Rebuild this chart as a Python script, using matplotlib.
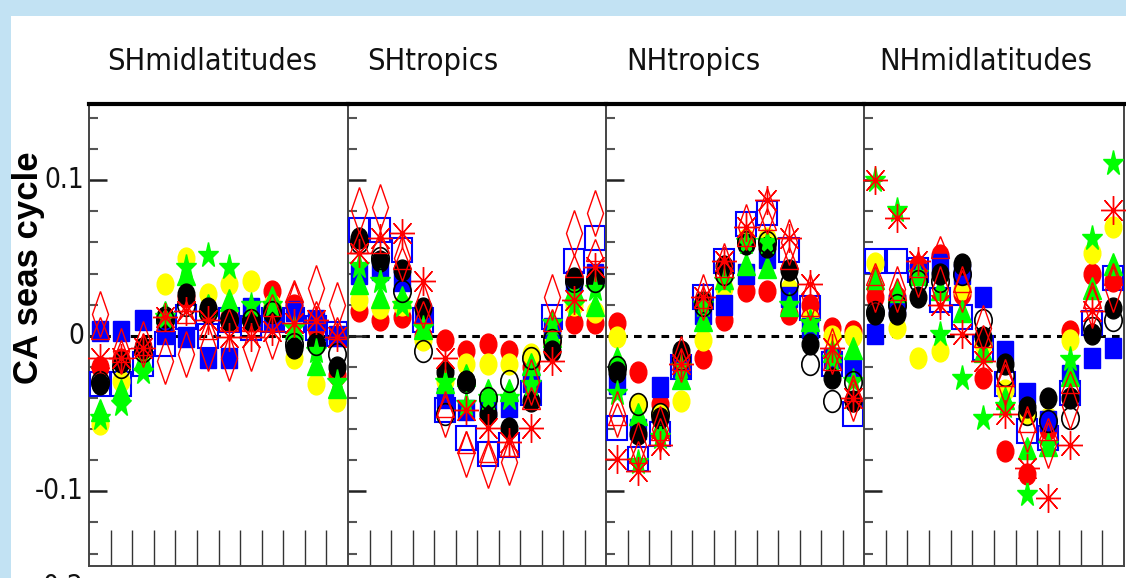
import numpy as np
import matplotlib
matplotlib.use('Agg')
import matplotlib.pyplot as plt
from matplotlib.markers import MarkerStyle
from matplotlib.transforms import Affine2D
from matplotlib.patches import Rectangle
from matplotlib.ticker import MultipleLocator
from matplotlib import font_manager

# ---------------- data (one row per region, 12 months each) ----------------
regions = ['SHmidlatitudes', 'SHtropics', 'NHtropics', 'NHmidlatitudes']
months = np.arange(12) + 0.5

black_circle = [
    [-0.031, -0.017, -0.008, 0.012, 0.027, 0.018, 0.010, 0.010, 0.016, -0.008, -0.005, -0.020],
    [0.063, 0.048, 0.042, 0.018, -0.023, -0.029, -0.050, -0.059, -0.042, -0.010, 0.037, 0.037],
    [-0.023, -0.063, -0.053, -0.010, 0.022, 0.045, 0.059, 0.057, 0.042, -0.005, -0.027, -0.042],
    [0.014, 0.014, 0.025, 0.040, 0.046, -0.001, -0.018, -0.046, -0.040, -0.040, 0.001, 0.018]]
red_circle = [
    [-0.020, -0.015, -0.008, 0.012, 0.025, 0.015, 0.012, 0.010, 0.029, 0.020, 0.005, -0.025],
    [0.016, 0.010, 0.012, 0.000, -0.003, -0.010, -0.005, -0.010, -0.020, -0.005, 0.008, 0.008],
    [0.008, -0.023, -0.044, -0.015, -0.014, 0.010, 0.029, 0.029, 0.014, 0.020, 0.005, 0.003],
    [0.025, 0.025, 0.045, 0.052, 0.027, -0.027, -0.074, -0.089, -0.060, 0.003, 0.040, 0.035]]
yellow_circle = [
    [-0.057, -0.029, -0.010, 0.033, 0.050, 0.027, 0.033, 0.035, 0.020, -0.014, -0.031, -0.042],
    [0.023, 0.018, 0.020, -0.003, -0.029, -0.018, -0.018, -0.018, -0.012, 0.001, 0.020, 0.015],
    [-0.001, -0.044, -0.050, -0.042, -0.003, 0.031, 0.062, 0.063, 0.030, 0.010, 0.000, 0.000],
    [0.047, 0.005, -0.014, -0.010, 0.030, -0.005, -0.035, -0.050, -0.053, -0.003, 0.053, 0.070]]
blue_square = [
    [0.003, 0.003, 0.010, 0.001, -0.001, -0.014, -0.014, 0.018, 0.010, 0.016, 0.010, 0.000],
    [0.040, 0.042, 0.035, 0.014, -0.040, -0.048, -0.046, -0.046, -0.030, 0.005, 0.035, 0.040],
    [-0.031, -0.060, -0.033, -0.020, 0.014, 0.020, 0.040, 0.050, 0.025, 0.005, -0.014, -0.020],
    [0.001, 0.020, 0.040, 0.046, 0.040, 0.025, -0.010, -0.037, -0.055, -0.025, -0.014, -0.008]]
blue_open_square = [
    [-0.031, -0.031, -0.018, -0.005, 0.012, 0.000, 0.010, 0.005, 0.010, 0.010, 0.005, 0.001],
    [0.068, 0.068, 0.055, 0.010, -0.048, -0.066, -0.076, -0.070, -0.037, 0.012, 0.048, 0.063],
    [-0.059, -0.079, -0.063, -0.020, 0.025, 0.048, 0.072, 0.079, 0.055, 0.018, -0.018, -0.050],
    [0.048, 0.048, 0.042, 0.023, 0.012, -0.008, -0.031, -0.061, -0.066, -0.037, 0.008, 0.037]]
green_triangle = [
    [-0.048, -0.035, -0.015, 0.015, 0.040, 0.020, 0.023, 0.015, 0.025, 0.005, -0.018, -0.033],
    [0.034, 0.025, 0.025, 0.005, -0.030, -0.025, -0.035, -0.035, -0.018, 0.000, 0.030, 0.020],
    [-0.014, -0.050, -0.058, -0.027, 0.010, 0.037, 0.046, 0.044, 0.020, 0.010, -0.010, -0.008],
    [0.037, 0.029, 0.040, 0.030, 0.016, -0.010, -0.040, -0.072, -0.070, -0.025, 0.031, 0.046]]
green_star = [
    [-0.053, -0.044, -0.023, 0.012, 0.044, 0.052, 0.044, 0.020, 0.020, 0.005, -0.010, -0.030],
    [0.045, 0.035, 0.020, 0.005, -0.030, -0.044, -0.040, -0.040, -0.031, 0.008, 0.020, 0.030],
    [-0.037, -0.081, -0.065, -0.020, 0.020, 0.035, 0.060, 0.060, 0.020, 0.008, -0.015, -0.029],
    [0.100, 0.081, 0.040, 0.001, -0.027, -0.053, -0.045, -0.102, -0.070, -0.015, 0.063, 0.111]]
red_asterisk = [
    [-0.014, -0.014, -0.008, 0.012, 0.016, 0.010, -0.001, -0.001, 0.003, 0.008, 0.010, -0.001],
    [0.053, 0.063, 0.066, 0.035, -0.014, -0.048, -0.059, -0.068, -0.059, -0.016, 0.023, 0.044],
    [-0.079, -0.087, -0.070, -0.018, 0.025, 0.048, 0.070, 0.087, 0.063, 0.033, -0.008, -0.040],
    [0.100, 0.076, 0.048, 0.020, 0.001, -0.016, -0.050, -0.085, -0.104, -0.070, 0.016, 0.081]]
red_diamond = [
    [0.014, -0.010, -0.005, -0.016, -0.012, -0.008, -0.014, -0.008, 0.000, 0.020, 0.031, 0.020],
    [0.081, 0.083, 0.050, 0.020, -0.050, -0.076, -0.083, -0.081, -0.030, 0.025, 0.066, 0.079],
    [-0.050, -0.070, -0.060, -0.015, 0.025, 0.045, 0.070, 0.080, 0.060, 0.025, -0.010, -0.040],
    [0.030, 0.030, 0.040, 0.030, 0.030, 0.005, -0.030, -0.060, -0.070, -0.045, 0.020, 0.030]]
black_open_circle = [
    [-0.030, -0.020, -0.010, 0.010, 0.020, 0.015, 0.010, 0.010, 0.015, -0.005, -0.005, -0.012],
    [0.060, 0.050, 0.029, -0.010, -0.050, -0.030, -0.040, -0.029, -0.014, -0.003, 0.035, 0.035],
    [-0.020, -0.044, -0.050, -0.015, 0.020, 0.040, 0.060, 0.060, 0.033, -0.018, -0.042, -0.030],
    [0.015, 0.020, 0.035, 0.035, 0.040, 0.010, -0.025, -0.050, -0.055, -0.053, 0.005, 0.010]]
red_open_triangle = [
    [0.005, -0.010, -0.005, 0.010, 0.015, 0.005, 0.010, 0.010, 0.020, 0.029, 0.015, 0.005],
    [0.060, 0.060, 0.050, 0.015, -0.045, -0.068, -0.074, -0.070, -0.040, 0.010, 0.045, 0.055],
    [-0.050, -0.075, -0.060, -0.015, 0.025, 0.045, 0.065, 0.075, 0.050, 0.020, -0.015, -0.035],
    [0.040, 0.030, 0.045, 0.057, 0.035, 0.000, -0.025, -0.055, -0.060, -0.030, 0.025, 0.040]]

# markers are a bit taller than wide in the original
def mk(m, sx=1.0, sy=1.25):
    return MarkerStyle(m, transform=Affine2D().scale(sx, sy))

# drawing order, style
series = [
    (blue_open_square, dict(marker=mk('s'), ms=14, mfc='none', mec='blue', mew=1.5)),
    (red_circle, dict(marker=mk('o'), ms=12, mfc='red', mec='red')),
    (yellow_circle, dict(marker=mk('o'), ms=12, mfc='yellow', mec='yellow')),
    (blue_square, dict(marker=mk('s'), ms=11.5, mfc='blue', mec='blue')),
    (green_triangle, dict(marker=mk('^'), ms=12.5, mfc='lime', mec='lime')),
    (black_circle, dict(marker=mk('o'), ms=12, mfc='black', mec='black')),
    (green_star, dict(marker=mk('*'), ms=15, mfc='lime', mec='lime')),
    (black_open_circle, dict(marker=mk('o'), ms=12.5, mfc='none', mec='black', mew=1.2)),
    (red_diamond, dict(marker=mk('d', 0.75, 1.35), ms=17, mfc='none', mec='red', mew=1.0)),
    (red_open_triangle, dict(marker=mk('^'), ms=13, mfc='none', mec='red', mew=1.0)),
    (red_asterisk, dict(marker=mk((8, 2, 0), 1.0, 1.15), ms=18, mfc='red', mec='red', mew=1.0)),
]

# narrow face for titles and tick labels
names = set(f.name for f in font_manager.fontManager.ttflist)
if 'Liberation Sans Narrow' in names:
    narrow = dict(family=['Liberation Sans Narrow', 'DejaVu Sans'])
else:
    narrow = dict(family=['DejaVu Sans'], fontstretch='condensed')

W, H = 1126, 578
fig = plt.figure(figsize=(W / 100, H / 100), dpi=100, facecolor='#c2e2f3')
fig.patches.append(Rectangle((11 / W, 0), 1, 1 - 16 / H, transform=fig.transFigure,
                             facecolor='white', edgecolor='none', zorder=-5))

edges = [89, 348, 606, 864, 1124]
ytop, ybot = 104, 566
title_x = [212, 433, 693, 986]

for i in range(4):
    ax = fig.add_axes([edges[i] / W, 1 - ybot / H, (edges[i + 1] - edges[i]) / W, (ybot - ytop) / H])
    ax.set_facecolor('none')
    ax.set_xlim(0, 12)
    ax.set_ylim(-0.148, 0.149)
    ax.axhline(0, color='black', ls=(0, (2.5, 2.0)), lw=2.2, zorder=1)
    for vals, st in series:
        ax.plot(months, vals[i], ls='none', zorder=3, clip_on=False, **st)

    ax.set_xticks(np.arange(1, 12))
    ax.tick_params(axis='x', direction='in', length=26, width=1.0, color='#333333',
                   labelbottom=False, bottom=True, top=False)
    ax.yaxis.set_major_locator(MultipleLocator(0.1))
    ax.yaxis.set_minor_locator(MultipleLocator(0.02))
    ax.tick_params(axis='y', which='major', direction='in', length=13, width=1.8, color='#222222')
    ax.tick_params(axis='y', which='minor', direction='in', length=6.5, width=1.5, color='#555555')
    ax.tick_params(axis='y', which='both', right=False, labelleft=False)
    for s in ['left', 'bottom', 'right']:
        ax.spines[s].set_color('#444444')
        ax.spines[s].set_linewidth(1.4)
    ax.spines['right'].set_visible(i == 3)
    ax.spines['top'].set_color('black')
    ax.spines['top'].set_linewidth(3.0)

    fig.text(title_x[i] / W, 1 - 62 / H, regions[i], ha='center', va='center',
             fontsize=22, color='#111111', **narrow)

# y tick labels, drawn at the figure level like the original
for val, lab in [(0.1, '0.1'), (0.0, '0'), (-0.1, '-0.1'), (-0.2, '-0.2')]:
    ypix = 335.5 - val * 1555 if val > -0.15 else 587
    fig.text(84 / W, 1 - ypix / H, lab, ha='right', va='center',
             fontsize=20, color='#111111', **narrow)

fig.text(29 / W, 1 - 268 / H, 'CA seas cycle', rotation=90, ha='center', va='center',
         fontsize=25, fontweight='bold', family=['Liberation Sans', 'DejaVu Sans'], color='black')

fig.savefig('out.png', dpi=100, facecolor=fig.get_facecolor())
